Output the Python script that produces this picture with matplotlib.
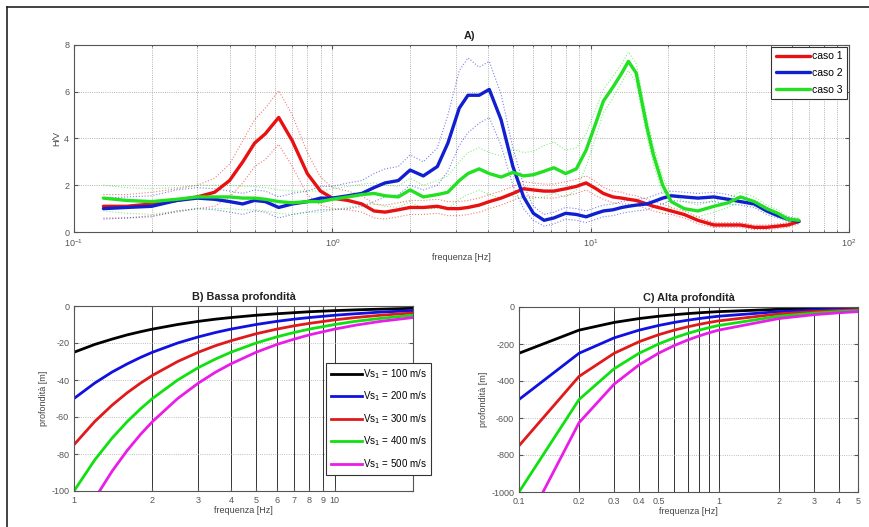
import matplotlib
matplotlib.use("Agg")
import matplotlib.pyplot as plt
from matplotlib.lines import Line2D
from matplotlib.ticker import FixedLocator, NullFormatter, LogLocator

plt.rcParams['font.family'] = ['Liberation Sans', 'DejaVu Sans']
plt.rcParams['font.size'] = 6.5
plt.rcParams['axes.unicode_minus'] = False

# ---------------- H/V curves ----------------
freq_hv = [0.13, 0.16, 0.2, 0.25, 0.3, 0.35, 0.4, 0.45, 0.5, 0.55, 0.62, 0.7, 0.8, 0.9,
           1.0, 1.15, 1.3, 1.45, 1.6, 1.8, 2.0, 2.25, 2.55, 2.8, 3.1, 3.35, 3.7, 4.05,
           4.5, 5.0, 5.5, 6.0, 6.6, 7.2, 8.0, 8.8, 9.6, 10.5, 11.2, 12.2, 13.2, 14.0,
           15.0, 16.5, 17.5, 19, 20.5, 23, 26, 30, 34, 38, 43, 48, 53, 58, 64]

hv_caso1 = [1.1, 1.1, 1.2, 1.35, 1.5, 1.7, 2.2, 3.0, 3.8, 4.2, 4.9, 3.9, 2.5, 1.75,
            1.45, 1.35, 1.2, 0.9, 0.85, 0.95, 1.05, 1.05, 1.1, 1.0, 1.0, 1.05, 1.15, 1.3,
            1.45, 1.65, 1.85, 1.8, 1.75, 1.75, 1.85, 1.95, 2.1, 1.85, 1.65, 1.5, 1.45, 1.4,
            1.35, 1.2, 1.1, 1.0, 0.9, 0.75, 0.5, 0.3, 0.3, 0.3, 0.2, 0.2, 0.25, 0.3, 0.45]

hv_caso2 = [1.0, 1.05, 1.1, 1.35, 1.45, 1.4, 1.3, 1.2, 1.35, 1.3, 1.05, 1.2, 1.3, 1.45,
            1.45, 1.55, 1.65, 1.9, 2.1, 2.2, 2.65, 2.4, 2.8, 3.8, 5.3, 5.85, 5.85, 6.1,
            4.8, 2.8, 1.5, 0.8, 0.5, 0.6, 0.8, 0.75, 0.65, 0.8, 0.9, 0.95, 1.05, 1.1,
            1.15, 1.2, 1.3, 1.45, 1.55, 1.5, 1.45, 1.5, 1.4, 1.3, 1.2, 0.9, 0.7, 0.55, 0.45]

hv_caso3 = [1.45, 1.35, 1.3, 1.4, 1.5, 1.5, 1.5, 1.45, 1.45, 1.4, 1.3, 1.25, 1.3, 1.3,
            1.4, 1.5, 1.6, 1.65, 1.55, 1.5, 1.8, 1.5, 1.6, 1.7, 2.2, 2.5, 2.7, 2.5,
            2.35, 2.55, 2.4, 2.45, 2.6, 2.75, 2.5, 2.7, 3.5, 4.7, 5.6, 6.2, 6.8, 7.3,
            6.8, 4.5, 3.3, 2.0, 1.3, 1.0, 0.9, 1.1, 1.25, 1.5, 1.3, 1.0, 0.8, 0.55, 0.5]

# spread of each mean curve (dotted bounds = mean +/- spread)
sd_caso1 = [0.5, 0.5, 0.5, 0.5, 0.5, 0.6, 0.7, 0.9, 1.0, 1.1, 1.15, 1.1, 0.9, 0.6,
            0.45, 0.4, 0.35, 0.3, 0.3, 0.3, 0.3, 0.3, 0.3, 0.3, 0.3, 0.3, 0.3, 0.3,
            0.3, 0.3, 0.3, 0.3, 0.3, 0.3, 0.3, 0.3, 0.3, 0.3, 0.25, 0.25, 0.25, 0.2,
            0.2, 0.2, 0.2, 0.2, 0.15, 0.15, 0.15, 0.1, 0.1, 0.1, 0.1, 0.1, 0.1, 0.1, 0.1]

sd_caso2 = [0.45, 0.45, 0.45, 0.45, 0.45, 0.45, 0.45, 0.45, 0.45, 0.45, 0.45, 0.45, 0.45, 0.5,
            0.5, 0.55, 0.55, 0.6, 0.6, 0.6, 0.65, 0.6, 0.8, 1.2, 1.6, 1.6, 1.2, 1.2,
            1.1, 0.8, 0.5, 0.3, 0.25, 0.25, 0.25, 0.25, 0.25, 0.25, 0.25, 0.25, 0.25, 0.25,
            0.25, 0.25, 0.25, 0.25, 0.2, 0.2, 0.2, 0.2, 0.2, 0.15, 0.15, 0.15, 0.1, 0.1, 0.1]

sd_caso3 = [0.55, 0.55, 0.55, 0.5, 0.5, 0.5, 0.5, 0.5, 0.5, 0.5, 0.5, 0.5, 0.45, 0.45,
            0.45, 0.45, 0.45, 0.45, 0.45, 0.45, 0.5, 0.5, 0.6, 0.7, 0.8, 0.9, 0.9, 0.9,
            0.9, 1.0, 1.0, 1.0, 1.1, 1.1, 1.0, 0.9, 0.7, 0.6, 0.5, 0.45, 0.4, 0.4,
            0.4, 0.4, 0.4, 0.35, 0.3, 0.3, 0.25, 0.25, 0.2, 0.2, 0.2, 0.15, 0.15, 0.1, 0.1]

hv_labels = ['caso 1', 'caso 2', 'caso 3']
hv_colors = ['#e81010', '#1020d0', '#22e022']

# ---------------- depth vs frequency, low depth ----------------
freq_low = [1, 1.2, 1.4, 1.6, 1.8, 2, 2.5, 3, 3.5, 4, 5, 6, 7, 8, 10, 12, 15, 20]
depth_low_100 = [-25, -20.8, -17.9, -15.6, -13.9, -12.5, -10, -8.3, -7.1, -6.25, -5, -4.2,
                 -3.6, -3.1, -2.5, -2.1, -1.7, -1.25]
depth_low_200 = [-50, -41.7, -35.7, -31.3, -27.8, -25, -20, -16.7, -14.3, -12.5, -10, -8.3,
                 -7.1, -6.25, -5, -4.2, -3.3, -2.5]
depth_low_300 = [-75, -62.5, -53.6, -46.9, -41.7, -37.5, -30, -25, -21.4, -18.8, -15, -12.5,
                 -10.7, -9.4, -7.5, -6.25, -5, -3.75]
depth_low_400 = [-100, -83.3, -71.4, -62.5, -55.6, -50, -40, -33.3, -28.6, -25, -20, -16.7,
                 -14.3, -12.5, -10, -8.3, -6.7, -5]
depth_low_500 = [-125, -104.2, -89.3, -78.1, -69.4, -62.5, -50, -41.7, -35.7, -31.3, -25,
                 -20.8, -17.9, -15.6, -12.5, -10.4, -8.3, -6.25]

# ---------------- depth vs frequency, high depth ----------------
freq_high = [0.1, 0.2, 0.3, 0.4, 0.5, 0.6, 0.7, 0.8, 0.9, 1, 2, 3, 4, 5]
depth_high_100 = [-250, -125, -83.3, -62.5, -50, -41.7, -35.7, -31.3, -27.8, -25, -12.5,
                  -8.3, -6.25, -5]
depth_high_200 = [-500, -250, -166.7, -125, -100, -83.3, -71.4, -62.5, -55.6, -50, -25,
                  -16.7, -12.5, -10]
depth_high_300 = [-750, -375, -250, -187.5, -150, -125, -107.1, -93.8, -83.3, -75, -37.5,
                  -25, -18.8, -15]
depth_high_400 = [-1000, -500, -333.3, -250, -200, -166.7, -142.9, -125, -111.1, -100, -50,
                  -33.3, -25, -20]
depth_high_500 = [-1250, -625, -416.7, -312.5, -250, -208.3, -178.6, -156.3, -138.9, -125,
                  -62.5, -41.7, -31.3, -25]

vs_labels = ['Vs$_1$ = 100 m/s', 'Vs$_1$ = 200 m/s', 'Vs$_1$ = 300 m/s',
             'Vs$_1$ = 400 m/s', 'Vs$_1$ = 500 m/s']
vs_colors = ['#000000', '#1010e0', '#e01a1a', '#10e010', '#e81ee8']

ticks_low = [1, 2, 3, 4, 5, 6, 7, 8, 9, 10]
ticks_low_labels = ['1', '2', '3', '4', '5', '6', '7', '8', '9', '10']
ticks_high = [0.1, 0.2, 0.3, 0.4, 0.5, 1, 2, 3, 4, 5]
ticks_high_labels = ['0.1', '0.2', '0.3', '0.4', '0.5', '1', '2', '3', '4', '5']
vlines_high = [0.2, 0.3, 0.4, 0.5, 0.6, 0.7, 0.8, 0.9, 1, 2, 3, 4]

W, H = 870, 527
fig = plt.figure(figsize=(W / 100, H / 100), dpi=100)


def frac(left, top, right, bottom):
    return [left / W, 1 - bottom / H, (right - left) / W, (bottom - top) / H]


tick_col = '#555555'

# ---------- panel A ----------
axA = fig.add_axes(frac(74, 45, 849, 232))
for mean, sd, col, lab in zip([hv_caso1, hv_caso2, hv_caso3],
                              [sd_caso1, sd_caso2, sd_caso3], hv_colors, hv_labels):
    up = [m + s for m, s in zip(mean, sd)]
    lo = [max(m - s, 0.05) for m, s in zip(mean, sd)]
    axA.plot(freq_hv, up, ls=':', lw=0.8, color=col, alpha=0.55)
    axA.plot(freq_hv, lo, ls=':', lw=0.8, color=col, alpha=0.55)
for mean, col, lab in zip([hv_caso1, hv_caso2, hv_caso3], hv_colors, hv_labels):
    axA.plot(freq_hv, mean, color=col, lw=2.4, label=lab, solid_capstyle='round')
axA.set_xscale('log')
axA.set_xlim(0.1, 100)
axA.set_ylim(0, 8)
axA.set_yticks([0, 2, 4, 6, 8])
axA.xaxis.set_minor_locator(LogLocator(base=10, subs=range(2, 10)))
axA.xaxis.set_minor_formatter(NullFormatter())
axA.grid(True, which='both', ls=':', lw=0.6, color='#999999')
axA.set_xlabel('frequenza [Hz]', labelpad=3)
axA.set_ylabel('H/V', labelpad=2)
axA.set_title('A)', fontweight='bold', pad=4, x=0.51)
legA = axA.legend(loc='upper right', fontsize=7.5, frameon=True, fancybox=False,
                  framealpha=1, edgecolor='#333333', handlelength=3.3,
                  handletextpad=0.2, borderpad=0.45, labelspacing=0.65,
                  borderaxespad=0.15)
legA.get_frame().set_linewidth(0.8)

# ---------- panel B ----------
axB = fig.add_axes(frac(74, 306, 413, 491))
for d, col, lab in zip([depth_low_100, depth_low_200, depth_low_300, depth_low_400,
                        depth_low_500], vs_colors, vs_labels):
    axB.plot(freq_low, d, color=col, lw=2.0, label=lab)
axB.set_xscale('log')
axB.set_xlim(1, 20)
axB.set_ylim(-100, 0)
axB.set_yticks([-100, -80, -60, -40, -20, 0])
axB.xaxis.set_major_locator(FixedLocator(ticks_low))
axB.set_xticklabels(ticks_low_labels)
axB.xaxis.set_minor_formatter(NullFormatter())
axB.xaxis.set_minor_locator(FixedLocator([]))
for v in ticks_low[1:]:
    axB.axvline(v, color='#333333', lw=0.7, zorder=0.5)
axB.yaxis.grid(True, ls=':', lw=0.6, color='#aaaaaa')
axB.set_xlabel('frequenza [Hz]', labelpad=1)
axB.set_ylabel('profondità [m]', labelpad=2)
axB.set_title('B) Bassa profondità', fontweight='bold', pad=4)
legB = axB.legend(loc='upper left', bbox_to_anchor=(0.73, 0.72), fontsize=7,
                  frameon=True, fancybox=False, framealpha=1, edgecolor='#333333',
                  handlelength=3.2, handletextpad=0.1, borderpad=0.45,
                  labelspacing=0.9)
legB.get_frame().set_linewidth(0.8)

# ---------- panel C ----------
axC = fig.add_axes(frac(519, 307, 858, 492))
for d, col in zip([depth_high_100, depth_high_200, depth_high_300, depth_high_400,
                   depth_high_500], vs_colors):
    axC.plot(freq_high, d, color=col, lw=2.0)
axC.set_xscale('log')
axC.set_xlim(0.1, 5)
axC.set_ylim(-1000, 0)
axC.set_yticks([-1000, -800, -600, -400, -200, 0])
axC.xaxis.set_major_locator(FixedLocator(ticks_high))
axC.set_xticklabels(ticks_high_labels)
axC.xaxis.set_minor_locator(FixedLocator([]))
axC.xaxis.set_minor_formatter(NullFormatter())
for v in vlines_high:
    axC.axvline(v, color='#333333', lw=0.7, zorder=0.5)
axC.yaxis.grid(True, ls=':', lw=0.6, color='#aaaaaa')
axC.set_xlabel('frequenza [Hz]', labelpad=1)
axC.set_ylabel('profondità [m]', labelpad=2)
axC.set_title('C) Alta profondità', fontweight='bold', pad=4)

for ax in (axA, axB, axC):
    ax.tick_params(which='both', direction='in', colors=tick_col, labelsize=6.5,
                   top=True, right=True, length=3)
    ax.tick_params(which='minor', length=1.5)
    for s in ax.spines.values():
        s.set_color('#555555')
        s.set_linewidth(0.8)
    ax.xaxis.label.set_color('#444444')
    ax.yaxis.label.set_color('#444444')
    ax.title.set_color('#222222')

# outer frame along the top and left edges
fig.add_artist(Line2D([7 / W, 7 / W], [0, 1 - 7 / H], color='#222222', lw=1.2,
                      transform=fig.transFigure))
fig.add_artist(Line2D([7 / W, 1], [1 - 7 / H, 1 - 7 / H], color='#222222', lw=1.2,
                      transform=fig.transFigure))

fig.savefig('out.png', dpi=100)
